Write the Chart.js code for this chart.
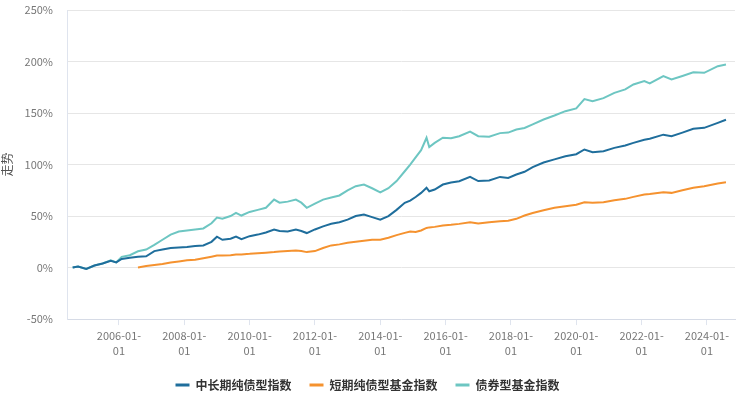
<!DOCTYPE html>
<html>
<head>
<meta charset="utf-8">
<script src="https://cdn.jsdelivr.net/npm/chart.js@4.4.1/dist/chart.umd.min.js"></script>
<style>
  html, body { margin: 0; padding: 0; background: #fff; }
  #wrap { width: 737px; height: 396px; }
</style>
</head>
<body>
<div id="wrap"><canvas id="chart"></canvas></div>
<script>
const dates = [
  "2004-08", "2004-10", "2005-01", "2005-04", "2005-07", "2005-10", "2005-12",
  "2006-02", "2006-05", "2006-08", "2006-11", "2007-02", "2007-05", "2007-08",
  "2007-11", "2008-02", "2008-05", "2008-08", "2008-11", "2009-01", "2009-03",
  "2009-06", "2009-08", "2009-10", "2010-01", "2010-04", "2010-07", "2010-10",
  "2010-12", "2011-03", "2011-06", "2011-08", "2011-10", "2012-01", "2012-04",
  "2012-07", "2012-10", "2013-01", "2013-04", "2013-07", "2013-10", "2014-01",
  "2014-04", "2014-07", "2014-10", "2014-12", "2015-02", "2015-04", "2015-06",
  "2015-07", "2015-09", "2015-12", "2016-03", "2016-06", "2016-10", "2017-01",
  "2017-05", "2017-09", "2017-12", "2018-03", "2018-06", "2018-09", "2019-01",
  "2019-05", "2019-09", "2020-01", "2020-04", "2020-07", "2020-11", "2021-03",
  "2021-07", "2021-10", "2022-02", "2022-04", "2022-09", "2022-12", "2023-04",
  "2023-08", "2023-12", "2024-05", "2024-08"
];

// 中长期纯债型指数
const midLongBond = [
  0, 1, -1.3, 2, 4, 6.5, 5,
  8.4, 9.5, 10.4, 11, 16, 17.5, 19,
  19.5, 20, 21, 21.5, 25, 30, 27,
  28, 30, 27.5, 30.5, 32, 34, 37,
  35.5, 35, 37, 35.5, 33.5, 37, 40,
  42.5, 44, 46.5, 50, 51.5, 49, 46.5,
  50, 56, 62.8, 65, 68.5, 72.5, 77.4,
  74, 75.7, 80.6, 82.5, 83.8, 88, 84,
  84.5, 88, 87, 90.3, 93, 97.5, 102,
  105, 108, 110, 114.6, 112, 113, 116.2,
  118.5, 121, 124, 125, 129, 127.5, 131,
  134.7, 135.6, 140.5, 143.5
];

// 短期纯债型基金指数
const shortBond = [
  null, null, null, null, null, null, null,
  null, null, 0, 1.5, 2.5, 3.5, 5,
  6, 7, 7.5, 9, 10.5, 11.6, 11.8,
  12, 12.6, 12.8, 13.3, 14, 14.5, 15,
  15.5, 16, 16.5, 16, 15, 16, 19,
  21.5, 22.5, 24, 25, 26, 27, 27,
  29, 31.5, 33.7, 35, 34.5, 36, 38.5,
  39, 39.5, 40.8, 41.5, 42.4, 44, 42.7,
  44, 45, 45.5, 47.3, 50.5, 53, 55.6,
  58, 59.5, 61, 63.4, 62.8, 63.4, 65.4,
  66.7, 68.6, 71, 71.3, 73, 72.5, 75,
  77.4, 79, 81.6, 82.8
];

// 债券型基金指数
const bondFund = [
  0, 1, -1.3, 2, 4, 7, 5,
  10.4, 12, 15.8, 17.5, 22, 27, 32,
  35, 36, 37, 38, 43, 48.5, 47.5,
  50, 53, 50.5, 54, 56, 58, 66,
  63, 64, 66, 63, 58, 62, 66,
  68, 70, 75, 79, 80.5, 77, 73,
  77, 84, 93.5, 100, 107, 114, 126,
  117, 121, 126, 125.5, 127.5, 132, 127.5,
  127, 130.5, 131, 134, 135.5, 139, 143.7,
  147.6, 151.8, 154.5, 163.5, 161.5, 164.5, 169.6,
  173, 177.7, 181, 178.7, 185.8, 182.5, 186,
  189.6, 189, 195.5, 197
];

const seriesNames = ["中长期纯债型指数", "短期纯债型基金指数", "债券型基金指数"];
const seriesColors = ["#1f6e9c", "#f5922f", "#6dc6c2"];
const xTickYears = [2006, 2008, 2010, 2012, 2014, 2016, 2018, 2020, 2022, 2024];

const toYear = (d) => {
  const [y, m] = d.split("-").map(Number);
  return y + (m - 1) / 12;
};

const makeSeries = (name, values, color) => ({
  label: name,
  data: values.map((v, i) => ({ x: toYear(dates[i]), y: v })),
  borderColor: color,
  backgroundColor: color,
  borderWidth: 2,
  pointRadius: 0,
  tension: 0,
  spanGaps: false,
});

const fontFamily = "'Noto Sans CJK SC', 'Noto Sans', sans-serif";

new Chart(document.getElementById("chart"), {
  type: "line",
  data: {
    datasets: [
      makeSeries(seriesNames[0], midLongBond, seriesColors[0]),
      makeSeries(seriesNames[1], shortBond, seriesColors[1]),
      makeSeries(seriesNames[2], bondFund, seriesColors[2]),
    ],
  },
  options: {
    responsive: true,
    maintainAspectRatio: false,
    animation: false,
    layout: { padding: { top: 10, right: 2, left: 0, bottom: -5 } },
    plugins: {
      tooltip: { enabled: false },
      legend: {
        position: "bottom",
        labels: {
          boxWidth: 14,
          boxHeight: 3,
          padding: 18,
          color: "#333",
          font: { family: fontFamily, size: 12, weight: "bold" },
          generateLabels: (chart) =>
            Chart.defaults.plugins.legend.labels
              .generateLabels(chart)
              .map((l) => ({ ...l, lineWidth: 0 })),
        },
      },
    },
    scales: {
      x: {
        type: "linear",
        min: 2004.41,
        max: 2024.86,
        afterBuildTicks: (scale) => {
          scale.ticks = xTickYears.map((v) => ({ value: v }));
        },
        ticks: {
          autoSkip: false,
          maxRotation: 0,
          color: "#777",
          padding: 3,
          font: { family: fontFamily, size: 11, lineHeight: 1.36 },
          callback: (v) => [v + "-01-", "01"],
        },
        grid: {
          drawOnChartArea: false,
          drawTicks: true,
          tickLength: 6,
          color: "#dfe4ee",
        },
        border: { color: "#d6dbe6" },
      },
      y: {
        min: -50,
        max: 250,
        afterFit: (scale) => {
          scale.width = 67;
        },
        ticks: {
          stepSize: 50,
          color: "#777",
          padding: 0,
          font: { family: fontFamily, size: 11 },
          callback: (v) => v + "%",
        },
        grid: {
          color: "#e6e6e6",
          drawTicks: true,
          tickLength: 14,
          tickColor: "rgba(0,0,0,0)",
        },
        border: { color: "#dfe4ee", display: true },
        title: {
          display: true,
          text: "走势",
          color: "#555",
          padding: 0,
          font: { family: fontFamily, size: 12 },
        },
      },
    },
  },
});
</script>
</body>
</html>
